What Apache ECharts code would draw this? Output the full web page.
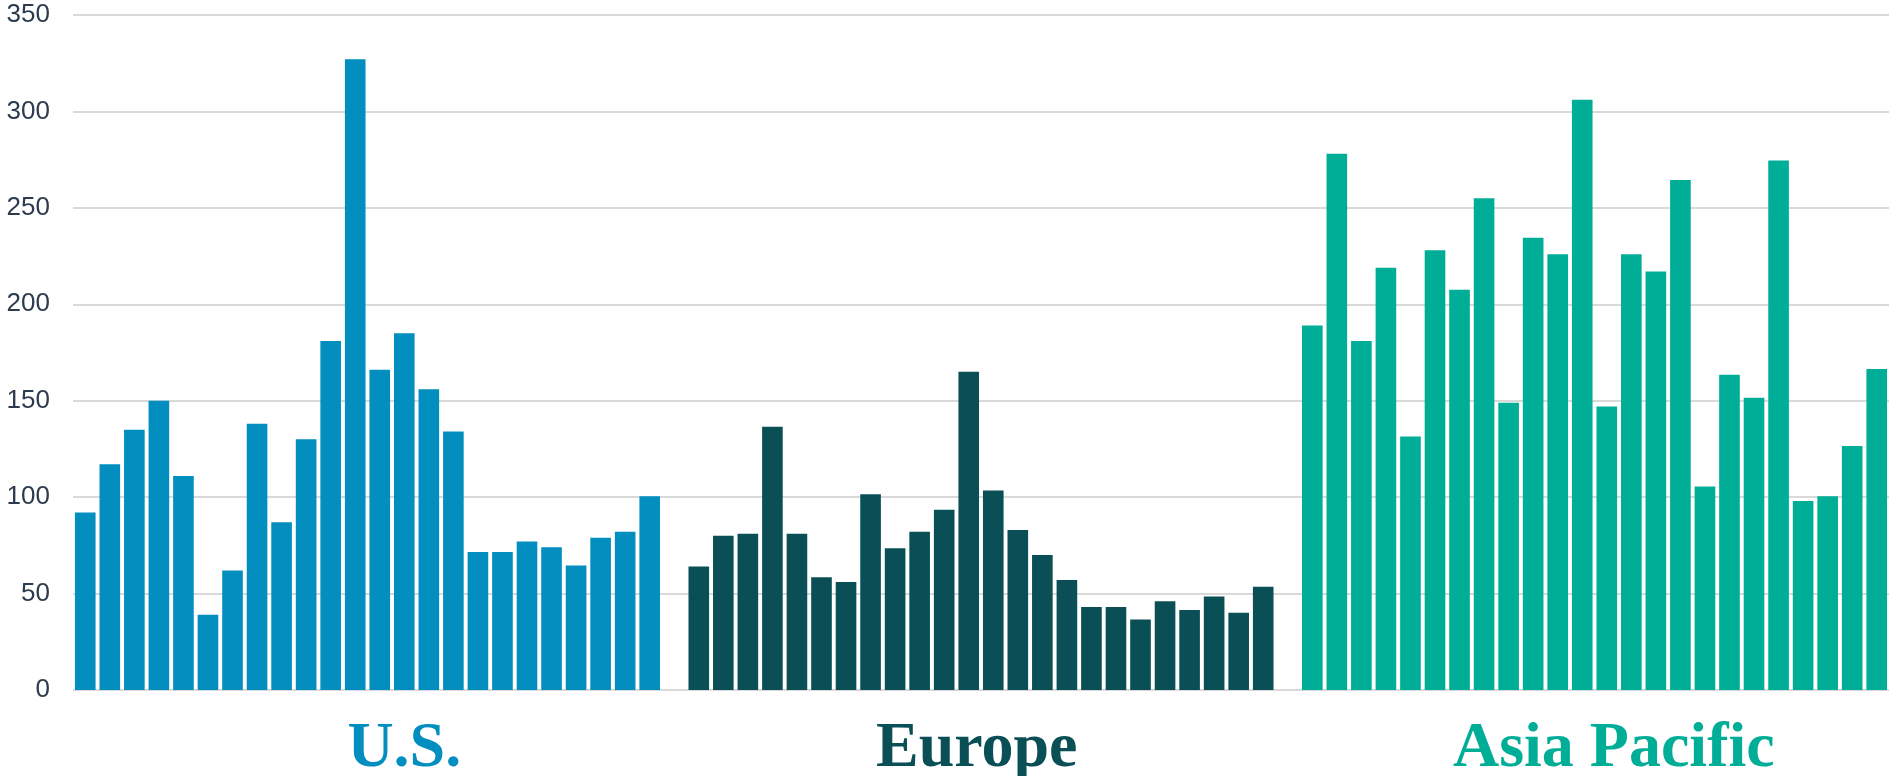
<!DOCTYPE html>
<html>
<head>
<meta charset="utf-8">
<script src="https://cdn.jsdelivr.net/npm/echarts@6/dist/echarts.min.js"></script>
<style>
html,body{margin:0;padding:0;background:#fff;}
#chart{width:1889px;height:776px;}
</style>
</head>
<body>
<div id="chart"></div>
<script>
const groupNames = ['U.S.', 'Europe', 'Asia Pacific'];
const groupColors = ['#028fbf', '#0a4f56', '#00ad96'];
const usValues = [92, 117, 135, 150, 111, 39, 62, 138, 87, 130, 181, 327, 166, 185, 156, 134, 71.5, 71.5, 77, 74, 64.5, 79, 82, 100.5];
const europeValues = [64, 80, 81, 136.5, 81, 58.5, 56, 101.5, 73.5, 82, 93.5, 165, 103.5, 83, 70, 57, 43, 43, 36.5, 46, 41.5, 48.5, 40, 53.5];
const asiaValues = [189, 278, 181, 219, 131.5, 228, 207.5, 255, 149, 234.5, 226, 306, 147, 226, 217, 264.5, 105.5, 163.5, 151.5, 274.5, 98, 100.5, 126.5, 166.5];
const yTicks = [0, 50, 100, 150, 200, 250, 300, 350];
// which bar (within each group) carries the group's label
const labelSlot = [13, 11, 12];

const groupValues = [usValues, europeValues, asiaValues];
const categories = [];
const labelText = {};
const seriesData = [[], [], []];
groupValues.forEach((vals, g) => {
  vals.forEach((v, i) => {
    const idx = categories.length;
    categories.push(groupNames[g] + ' ' + (i + 1));
    if (i === labelSlot[g]) labelText[idx] = g;
    for (let s = 0; s < 3; s++) seriesData[s].push(s === g ? v : null);
  });
  if (g < groupValues.length - 1) {
    categories.push('gap' + g);
    for (let s = 0; s < 3; s++) seriesData[s].push(null);
  }
});

const labelFont = {fontFamily: 'Liberation Serif', fontWeight: 'bold', fontSize: 64};
const chart = echarts.init(document.getElementById('chart'), null, {renderer: 'canvas'});
chart.setOption({
  animation: false,
  backgroundColor: '#ffffff',
  grid: {left: 73, right: 0, top: 15, bottom: 86, containLabel: false, outerBoundsMode: 'none'},
  xAxis: {
    type: 'category',
    data: categories,
    axisLine: {show: false},
    axisTick: {show: false},
    axisLabel: {
      interval: 0,
      margin: 27,
      fontFamily: 'Liberation Serif',
      fontWeight: 'bold',
      fontSize: 64,
      formatter: (val, idx) => labelText[idx] !== undefined ? '{g' + labelText[idx] + '|' + groupNames[labelText[idx]] + '}' : '',
      rich: {
        g0: Object.assign({color: groupColors[0]}, labelFont),
        g1: Object.assign({color: groupColors[1], padding: [0, 0, 0, 16]}, labelFont),
        g2: Object.assign({color: groupColors[2], padding: [0, 0, 0, 14]}, labelFont)
      }
    }
  },
  yAxis: {
    type: 'value',
    min: yTicks[0],
    max: yTicks[yTicks.length - 1],
    interval: yTicks[1] - yTicks[0],
    axisLine: {show: false},
    axisTick: {show: false},
    axisLabel: {
      margin: 23,
      fontFamily: 'Liberation Sans',
      fontSize: 26,
      color: '#2c3b4d'
    },
    splitLine: {lineStyle: {color: '#d9d9d9', width: 2}}
  },
  series: groupNames.map((name, g) => ({
    name: name,
    type: 'bar',
    stack: 'all',
    barCategoryGap: '16%',
    itemStyle: {color: groupColors[g]},
    data: seriesData[g]
  }))
});
</script>
</body>
</html>
